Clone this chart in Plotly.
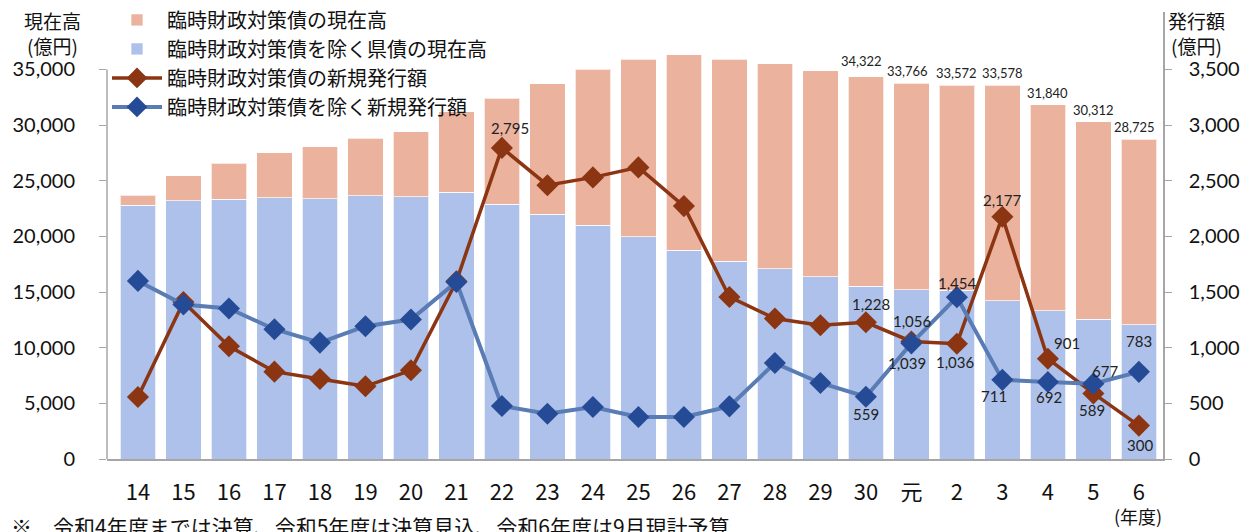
import plotly.graph_objects as go

years = ["14", "15", "16", "17", "18", "19", "20", "21", "22", "23", "24", "25",
         "26", "27", "28", "29", "30", "元", "2", "3", "4", "5", "6"]

# 県債の現在高 合計 (億円)
total_outstanding = [23700, 25440, 26550, 27510, 28050, 28800, 29400, 31200, 32400,
                     33700, 35000, 35900, 36300, 35900, 35500, 34900, 34322, 33766,
                     33572, 33578, 31840, 30312, 28725]
# 臨時財政対策債を除く県債の現在高 (億円)
other_outstanding = [22800, 23190, 23320, 23460, 23370, 23640, 23550, 23950, 22900,
                     22000, 20980, 19960, 18760, 17770, 17080, 16360, 15500, 15200,
                     15150, 14200, 13300, 12550, 12080]
# 臨時財政対策債の現在高 = 合計 - 除く分
rinji_outstanding = [t - o for t, o in zip(total_outstanding, other_outstanding)]

# 新規発行額 (億円)
rinji_issue = [557, 1411, 1013, 785, 719, 653, 797, 1597, 2795, 2460, 2530, 2620,
               2272, 1456, 1262, 1201, 1228, 1056, 1036, 2177, 901, 589, 300]
other_issue = [1600, 1388, 1352, 1166, 1046, 1193, 1253, 1591, 476, 407, 467, 377,
               377, 473, 862, 683, 559, 1039, 1454, 711, 692, 677, 783]

total_label_idx = [16, 17, 18, 19, 20, 21, 22]
# (index, xshift, yshift) for labels
rinji_issue_labels = [(8, 8, 20), (16, 5, 18), (17, 1, 20), (18, -1, -18),
                      (19, 0, 17), (20, 19, 16), (21, -1, -17), (22, 1, -19)]
other_issue_labels = [(16, 0, -17), (17, -4, -20), (18, 1, 14), (19, -8, -16),
                      (20, 1, -15), (21, 12, 13), (22, 0, 31)]

FONT = "Lato, 'Noto Sans CJK JP', sans-serif"
JFONT = "'Noto Sans CJK JP', Lato, sans-serif"

C_ORANGE = "#EBB29D"
C_BLUEBAR = "#ADC1EA"
C_BROWN = "#8B3512"
C_BLUELINE = "#5A7CB4"
C_BLUEMK = "#264B96"

fig = go.Figure()
fig.add_trace(go.Bar(
    x=years, y=other_outstanding, name="臨時財政対策債を除く県債の現在高",
    marker=dict(color=C_BLUEBAR, line=dict(color="rgba(255,255,255,0.7)", width=1)),
    legendrank=2))
fig.add_trace(go.Bar(
    x=years, y=rinji_outstanding, name="臨時財政対策債の現在高",
    marker=dict(color=C_ORANGE, line=dict(color="rgba(255,255,255,0.7)", width=1)),
    legendrank=1))
fig.add_trace(go.Scatter(
    x=years, y=rinji_issue, name="臨時財政対策債の新規発行額", yaxis="y2",
    mode="lines+markers", line=dict(color=C_BROWN, width=3.5),
    marker=dict(symbol="diamond", size=17, color=C_BROWN), legendrank=3))
fig.add_trace(go.Scatter(
    x=years, y=other_issue, name="臨時財政対策債を除く新規発行額", yaxis="y2",
    mode="lines+markers", line=dict(color=C_BLUELINE, width=4),
    marker=dict(symbol="diamond", size=17, color=C_BLUEMK), legendrank=4))

annotations = []
for i in total_label_idx:
    annotations.append(dict(
        x=i, y=total_outstanding[i], xref="x", yref="y",
        text=f"{total_outstanding[i]:,}", showarrow=False,
        yshift=16 if i == 16 else 12,
        xshift=-4 if i in (16, 17, 22) else 0,
        font=dict(size=13, color="#222", family=FONT)))
for i, dx, dy in rinji_issue_labels:
    annotations.append(dict(
        x=i, y=rinji_issue[i], xref="x", yref="y2",
        text=f"{rinji_issue[i]:,}", showarrow=False, xshift=dx, yshift=dy,
        font=dict(size=15, color="#222", family=FONT)))
for i, dx, dy in other_issue_labels:
    annotations.append(dict(
        x=i, y=other_issue[i], xref="x", yref="y2",
        text=f"{other_issue[i]:,}", showarrow=False, xshift=dx, yshift=dy,
        font=dict(size=15, color="#222", family=FONT)))

# axis titles and notes
annotations += [
    dict(x=-0.052, y=1.016, xref="paper", yref="paper", text="現在高<br>(億円)",
         showarrow=False, xanchor="center", yanchor="top", align="center",
         font=dict(size=19, family=JFONT, color="#111")),
    dict(x=1.032, y=1.016, xref="paper", yref="paper", text="発行額<br>(億円)",
         showarrow=False, xanchor="center", yanchor="top", align="center",
         font=dict(size=19, family=JFONT, color="#111")),
    dict(x=0.976, y=-0.127, xref="paper", yref="paper", text="(年度)",
         showarrow=False, xanchor="center", yanchor="middle",
         font=dict(size=18, family=JFONT, color="#111")),
    dict(x=-0.093, y=-0.149, xref="paper", yref="paper",
         text="※　令和4年度までは決算、令和5年度は決算見込、令和6年度は9月現計予算",
         showarrow=False, xanchor="left", yanchor="middle",
         font=dict(size=21, family=JFONT, color="#111")),
]

# page body adds an 8px offset, so the figure is 8px smaller than the window
fig.update_layout(
    width=1243, height=524,
    margin=dict(l=99, r=88, t=4, b=73, autoexpand=False),
    paper_bgcolor="white", plot_bgcolor="white",
    barmode="stack", bargap=0.215,
    font=dict(family=FONT, color="#111"),
    showlegend=True,
    legend=dict(x=0.0, y=1.026, xanchor="left", yanchor="top",
                bgcolor="rgba(0,0,0,0)", font=dict(size=20, family=JFONT),
                tracegroupgap=0, itemwidth=50, traceorder="normal"),
    xaxis=dict(type="category", range=[-0.68, 22.53], showline=True,
               linecolor="#A6A6A6", linewidth=1.5, ticks="", showgrid=False,
               tickfont=dict(size=22, family=JFONT), ticklabelstandoff=13,
               automargin=False),
    yaxis=dict(range=[0, 40160], tickvals=[0, 5000, 10000, 15000, 20000, 25000,
                                             30000, 35000],
               tickformat=",", showgrid=False, showline=False, ticks="outside",
               ticklen=7, tickcolor="#A6A6A6", tickwidth=1.2,
               tickfont=dict(size=20), ticklabelstandoff=20, zeroline=False,
               automargin=False),
    yaxis2=dict(range=[0, 4016], overlaying="y", side="right",
                tickvals=[0, 500, 1000, 1500, 2000, 2500, 3000, 3500],
                tickformat=",", showgrid=False, showline=True, linecolor="#A6A6A6",
                linewidth=1.5, ticks="outside", ticklen=7, tickcolor="#A6A6A6",
                tickwidth=1.2, tickfont=dict(size=20), ticklabelstandoff=13,
                zeroline=False, automargin=False),
    annotations=annotations,
    shapes=[dict(type="line", xref="paper", yref="y", x0=0, x1=0, y0=0, y1=35000,
                 line=dict(color="#A6A6A6", width=1.5))],
)

fig.write_html("out.html")
